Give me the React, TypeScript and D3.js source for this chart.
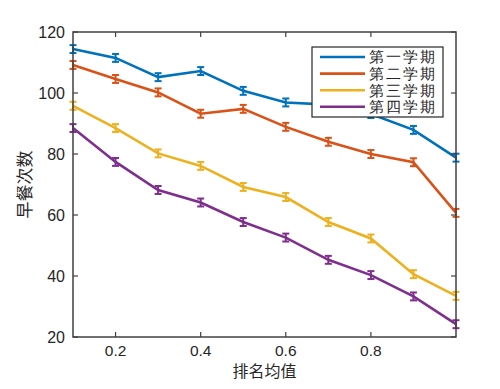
import React from "react";
import * as d3 from "d3";

// x positions (rank mean) and four semesters of breakfast counts
const xs = [0.1, 0.2, 0.3, 0.4, 0.5, 0.6, 0.7, 0.8, 0.9, 1.0];
const term1 = [114.4, 111.5, 105.2, 107.2, 100.7, 96.9, 96.2, 93.1, 87.9, 78.8];
const term2 = [109.2, 104.6, 100.2, 93.2, 94.8, 88.9, 84.0, 80.0, 77.3, 60.7];
const term3 = [95.8, 88.5, 80.2, 76.1, 69.2, 65.9, 57.7, 52.3, 40.6, 33.5];
const term4 = [88.5, 77.4, 68.2, 64.1, 57.7, 52.6, 45.3, 40.3, 33.3, 24.2];
const errs = [1.3, 1.3, 1.3, 1.3, 1.3, 1.3, 1.3, 1.3, 1.3, 1.3];

const names = ["第一学期", "第二学期", "第三学期", "第四学期"];
const colors = ["#0072BD", "#D95319", "#EDB120", "#7E2F8E"];
const allSeries = [term1, term2, term3, term4];

const xTicks = [0.2, 0.4, 0.6, 0.8];
const yTicks = [20, 40, 60, 80, 100, 120];

const W = 500;
const H = 389;
const M = { left: 73, right: 44, top: 32, bottom: 52 };

const App = () => {
  const x = d3.scaleLinear().domain([0.1, 1.0]).range([M.left, W - M.right]);
  const y = d3.scaleLinear().domain([20, 120]).range([H - M.bottom, M.top]);

  const line = d3
    .line<number>()
    .x((_, i) => x(xs[i]))
    .y((d) => y(d));

  const x0 = x.range()[0];
  const x1 = x.range()[1];
  const y0 = y.range()[0];
  const y1 = y.range()[1];
  const tickLen = 5;
  const axisColor = "#404040";
  const cjk = "'Noto Sans CJK SC', sans-serif";
  const rowGap = 16.6;

  return (
    <svg
      width={W}
      height={H}
      style={{ position: "absolute", left: 0, top: 0, background: "#fff" }}
      fontFamily="'Liberation Sans', Arial, sans-serif"
    >
      {/* data */}
      {allSeries.map((s, k) => (
        <g key={k} stroke={colors[k]} fill="none">
          <path d={line(s) || ""} strokeWidth={2.6} />
          {s.map((v, i) => {
            const cx = x(xs[i]);
            const e = errs[i];
            return (
              <g key={i} strokeWidth={2}>
                <line x1={cx} x2={cx} y1={y(v - e)} y2={y(v + e)} />
                <line x1={cx - 3.5} x2={cx + 3.5} y1={y(v - e)} y2={y(v - e)} />
                <line x1={cx - 3.5} x2={cx + 3.5} y1={y(v + e)} y2={y(v + e)} />
              </g>
            );
          })}
        </g>
      ))}

      {/* box */}
      <rect
        x={x0}
        y={y1}
        width={x1 - x0}
        height={y0 - y1}
        fill="none"
        stroke={axisColor}
        strokeWidth={1.5}
      />

      {xTicks.map((t) => (
        <g key={t} stroke={axisColor} strokeWidth={1.2}>
          <line x1={x(t)} x2={x(t)} y1={y0} y2={y0 - tickLen} />
          <line x1={x(t)} x2={x(t)} y1={y1} y2={y1 + tickLen} />
        </g>
      ))}
      {yTicks.map((t) => (
        <g key={t} stroke={axisColor} strokeWidth={1.2}>
          <line x1={x0} x2={x0 + tickLen} y1={y(t)} y2={y(t)} />
          <line x1={x1} x2={x1 - tickLen} y1={y(t)} y2={y(t)} />
        </g>
      ))}

      {xTicks.map((t) => (
        <text
          key={t}
          x={x(t)}
          y={y0 + 19}
          textAnchor="middle"
          fontSize={15.5}
          fill="#262626"
        >
          {d3.format(".1f")(t)}
        </text>
      ))}
      {yTicks.map((t) => (
        <text
          key={t}
          x={x0 - 8}
          y={y(t) + 6}
          textAnchor="end"
          fontSize={16}
          fill="#262626"
        >
          {t}
        </text>
      ))}

      <text
        x={(x0 + x1) / 2}
        y={H - 12}
        textAnchor="middle"
        fontSize={16}
        fontFamily={cjk}
        fill="#262626"
      >
        排名均值
      </text>
      <text
        transform={`translate(31, ${(y0 + y1) / 2}) rotate(-90)`}
        textAnchor="middle"
        fontSize={17}
        fontFamily={cjk}
        fill="#262626"
      >
        早餐次数
      </text>

      {/* legend */}
      <g transform="translate(312, 47)">
        <rect width={131} height={70} fill="#fff" stroke="#262626" strokeWidth={1.2} />
        {names.map((n, k) => (
          <g key={n} transform={`translate(0, ${10 + k * rowGap})`}>
            <line x1={8} x2={53} y1={0} y2={0} stroke={colors[k]} strokeWidth={2.6} />
            <text
              x={57}
              y={5.3}
              fontSize={14.8}
              textLength={66}
              lengthAdjust="spacing"
              fill="#262626"
            >
              {n}
            </text>
          </g>
        ))}
      </g>
    </svg>
  );
};

export default App;
